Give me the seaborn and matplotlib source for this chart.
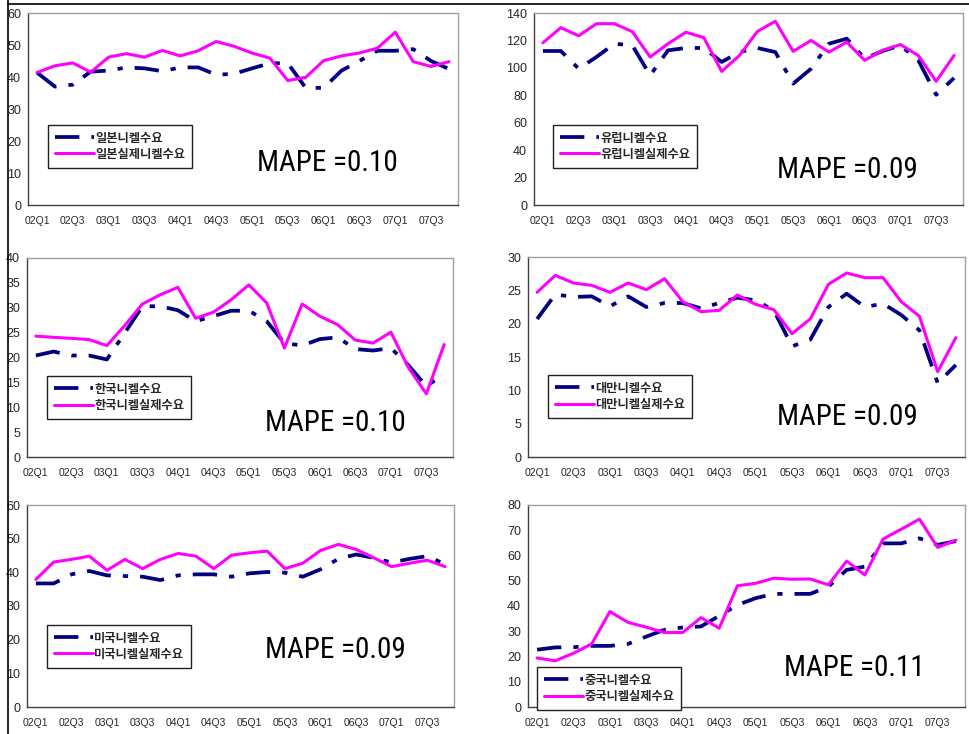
import matplotlib
matplotlib.use("Agg")
import matplotlib.pyplot as plt
from matplotlib import font_manager
import seaborn as sns
import numpy as np
from matplotlib.lines import Line2D

# ---------------- data ----------------
quarters = ["02Q1", "02Q2", "02Q3", "02Q4", "03Q1", "03Q2", "03Q3", "03Q4",
            "04Q1", "04Q2", "04Q3", "04Q4", "05Q1", "05Q2", "05Q3", "05Q4",
            "06Q1", "06Q2", "06Q3", "06Q4", "07Q1", "07Q2", "07Q3", "07Q4"]
tick_labels = ["02Q1", "02Q3", "03Q1", "03Q3", "04Q1", "04Q3",
               "05Q1", "05Q3", "06Q1", "06Q3", "07Q1", "07Q3"]

jp_fc = [41.4, 37.0, 37.6, 41.7, 42.0, 43.0, 42.7, 41.8, 43.0, 43.0, 40.7, 41.0,
         42.7, 44.3, 44.3, 36.6, 36.6, 42.0, 45.0, 48.2, 48.2, 48.7, 45.0, 42.5]
jp_act = [41.4, 43.5, 44.4, 41.5, 46.2, 47.3, 46.2, 48.3, 46.6, 48.2, 51.1, 49.6,
          47.5, 45.9, 38.9, 39.9, 45.1, 46.6, 47.5, 49.0, 54.0, 44.8, 43.3, 44.8]

eu_fc = [112.3, 112.3, 99.4, 108.0, 117.6, 116.4, 94.5, 112.8, 114.5, 114.5, 104.3, 111.5,
         114.5, 111.5, 88.5, 99.4, 117.6, 121.3, 106.7, 112.3, 116.4, 105.5, 80.4, 92.6]
eu_act = [118.3, 129.3, 123.4, 132.2, 132.2, 126.4, 107.9, 117.6, 126.0, 122.0, 97.4, 109.1,
          126.6, 134.0, 112.0, 120.0, 111.5, 118.8, 105.5, 112.8, 117.0, 109.0, 90.2, 109.0]

kr_fc = [20.4, 21.2, 20.4, 20.4, 19.6, 24.9, 30.3, 30.3, 29.5, 27.3, 28.3, 29.4,
         29.4, 27.3, 22.9, 22.4, 23.7, 24.05, 21.7, 21.4, 21.9, 18.4, 14.2, 16.75]
kr_act = [24.3, 24.05, 23.85, 23.6, 22.4, 26.4, 30.75, 32.6, 34.1, 27.9, 29.1, 31.6,
          34.6, 31.0, 21.9, 30.75, 28.3, 26.6, 23.5, 22.9, 25.1, 17.9, 12.7, 22.6]

tw_fc = [20.7, 24.4, 24.0, 24.1, 22.6, 24.1, 22.5, 23.1, 23.1, 22.3, 23.1, 23.9,
         23.5, 22.0, 16.6, 17.6, 22.5, 24.5, 22.5, 23.0, 21.3, 19.0, 11.1, 13.8]
tw_act = [24.7, 27.25, 26.1, 25.75, 24.7, 26.1, 25.1, 26.75, 23.3, 21.8, 22.0, 24.3,
          22.9, 22.1, 18.5, 20.7, 25.9, 27.6, 26.9, 26.9, 23.3, 21.1, 12.8, 17.9]

us_fc = [36.7, 36.7, 39.4, 40.4, 39.1, 38.9, 38.7, 37.7, 39.1, 39.4, 39.4, 38.7,
         39.7, 40.1, 39.9, 38.7, 40.9, 44.0, 45.3, 44.3, 42.9, 44.0, 44.8, 42.4]
us_act = [37.9, 43.05, 43.85, 44.8, 40.6, 43.85, 41.1, 43.85, 45.6, 44.8, 41.1, 45.1,
          45.8, 46.3, 41.1, 42.7, 46.5, 48.3, 46.8, 44.3, 41.7, 42.7, 43.6, 41.7]

cn_fc = [22.7, 23.6, 23.7, 24.2, 24.2, 25.0, 27.9, 30.6, 31.5, 31.9, 36.1, 40.4,
         43.1, 44.8, 44.8, 44.8, 47.7, 54.3, 55.6, 64.8, 64.8, 66.8, 64.2, 65.7]
cn_act = [19.4, 18.3, 21.3, 25.0, 37.8, 33.5, 31.6, 29.5, 29.5, 35.4, 31.2, 48.0,
          49.0, 51.0, 50.6, 50.7, 48.4, 57.8, 52.3, 66.5, 70.4, 74.4, 63.2, 66.1]

fc_names = ["일본니켈수요", "유럽니켈수요", "한국니켈수요", "대만니켈수요", "미국니켈수요", "중국니켈수요"]
act_names = ["일본실제니켈수요", "유럽니켈실제수요", "한국니켈실제수요", "대만니켈실제수요", "미국니켈실제수요", "중국니켈실제수요"]
mape_texts = ["MAPE =0.10", "MAPE =0.09", "MAPE =0.10", "MAPE =0.09", "MAPE =0.09", "MAPE =0.11"]
y_max = [60, 140, 40, 30, 60, 80]
y_step = [10, 20, 5, 5, 10, 10]

# ---------------- style ----------------
sns.set_style("white")
plt.rcParams['font.family'] = ['Liberation Sans', 'Noto Sans CJK KR', 'DejaVu Sans']

# pick a narrow font for the MAPE labels if one is installed
_names = sorted({f.name for f in font_manager.fontManager.ttflist})
narrow = None
for cand in ['Liberation Sans Narrow', 'Arial Narrow', 'Roboto Condensed', 'Open Sans Condensed']:
    if cand in _names:
        narrow = cand
        break
if narrow is None:
    for n in _names:
        if 'Narrow' in n or 'Condensed' in n:
            narrow = n
            break
if narrow is not None:
    mape_font = dict(family=[narrow, 'Liberation Sans'], fontsize=21)
else:
    mape_font = dict(family=['Liberation Sans'], fontsize=18)

W, H = 969, 734
fig = plt.figure(figsize=(W / 100, H / 100), dpi=100)

# pixel layout (left, top, right, bottom) of plot areas
boxes = [(28, 13, 458, 205), (534, 13, 963, 205),
         (27, 258, 453, 457), (528, 257, 965, 457),
         (27, 505, 454, 707), (528, 505, 965, 707)]
legend_pos = [(48, 125), (553, 125), (47, 376), (548, 375), (47, 625), (537, 667)]
text_pos = [(327, 163), (847, 170), (335, 423), (847, 417), (335, 650), (854, 668)]

series = [(jp_fc, jp_act), (eu_fc, eu_act), (kr_fc, kr_act),
          (tw_fc, tw_act), (us_fc, us_act), (cn_fc, cn_act)]

NAVY = "#000080"
PINK = "#FF00FF"
x = np.arange(len(quarters))

for k in range(6):
    l, t, r, b = boxes[k]
    ax = fig.add_axes([l / W, 1 - b / H, (r - l) / W, (b - t) / H])
    fc, act = series[k]
    sns.lineplot(x=x, y=fc, ax=ax, color=NAVY, linewidth=2.7, label=fc_names[k])
    ax.lines[-1].set_dashes((6.5, 3.2, 1.4, 3.2))
    sns.lineplot(x=x, y=act, ax=ax, color=PINK, linewidth=2.2, label=act_names[k])

    ax.set_xlim(-0.5, len(quarters) - 0.5)
    ax.set_ylim(0, y_max[k])
    ax.set_yticks(np.arange(0, y_max[k] + 0.1, y_step[k]))
    ax.set_yticklabels([f"{v:d}" for v in np.arange(0, y_max[k] + 1, y_step[k])], fontsize=9)
    ax.set_xticks(x[::2])
    ax.set_xticklabels(tick_labels, fontsize=7.5)
    ax.set_xticks(np.arange(-0.5, len(quarters), 1), minor=True)
    ax.tick_params(axis='x', which='major', length=0, pad=8)
    ax.tick_params(axis='x', which='minor', direction='in', length=3, width=0.8, color='#404040')
    ax.tick_params(axis='y', which='major', direction='out', length=3, width=0.8, color='#404040', pad=2)
    ax.set_xlabel("")
    ax.set_ylabel("")
    ax.set_facecolor("white")
    for s in ['left', 'bottom']:
        ax.spines[s].set_color('#404040')
        ax.spines[s].set_linewidth(1.0)
    for s in ['top', 'right']:
        ax.spines[s].set_color('#a0a0a0')
        ax.spines[s].set_linewidth(1.0)

    lx, ly = legend_pos[k]
    leg = ax.legend(loc='upper left', bbox_to_anchor=(lx / W, 1 - ly / H),
                    bbox_transform=fig.transFigure, borderaxespad=0,
                    frameon=True, fancybox=False, framealpha=1, edgecolor='#202020',
                    handlelength=3.2, handletextpad=0.1, labelspacing=0.25,
                    borderpad=0.55,
                    prop={'family': ['Noto Sans CJK KR', 'DejaVu Sans'], 'size': 8.8, 'weight': 'bold'})
    leg.get_frame().set_linewidth(1.0)

    tx, ty = text_pos[k]
    fig.text(tx / W, 1 - ty / H, mape_texts[k], ha='center', va='center', color='black', **mape_font)

# page separator lines of the screenshot
fig.add_artist(Line2D([8 / W, 8 / W], [0, 1], transform=fig.transFigure, color='black', lw=1.2))
fig.add_artist(Line2D([8 / W, 1], [1 - 4 / H, 1 - 4 / H], transform=fig.transFigure, color='black', lw=1.2))

fig.savefig("out.png", dpi=100)
